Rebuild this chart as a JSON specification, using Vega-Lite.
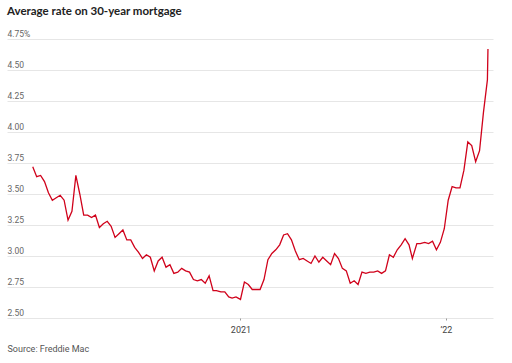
{
  "$schema": "https://vega.github.io/schema/vega-lite/v6.json",
  "width": 486,
  "height": 279,
  "autosize": {"type": "none"},
  "padding": {"left": 7, "top": 39, "right": 19, "bottom": 45},
  "background": "white",
  "title": {
    "text": "Average rate on 30-year mortgage",
    "anchor": "start",
    "frame": "group",
    "font": "Lato",
    "fontSize": 11.5,
    "fontWeight": "bold",
    "color": "#222222",
    "offset": 12
  },
  "config": {"view": {"stroke": null}},
  "data": {
    "values": [
      {"date": "2020-01-02", "rate": 3.72},
      {"date": "2020-01-09", "rate": 3.64},
      {"date": "2020-01-16", "rate": 3.65},
      {"date": "2020-01-23", "rate": 3.60},
      {"date": "2020-01-30", "rate": 3.51},
      {"date": "2020-02-06", "rate": 3.45},
      {"date": "2020-02-13", "rate": 3.47},
      {"date": "2020-02-20", "rate": 3.49},
      {"date": "2020-02-27", "rate": 3.45},
      {"date": "2020-03-05", "rate": 3.29},
      {"date": "2020-03-12", "rate": 3.36},
      {"date": "2020-03-19", "rate": 3.65},
      {"date": "2020-03-26", "rate": 3.50},
      {"date": "2020-04-02", "rate": 3.33},
      {"date": "2020-04-09", "rate": 3.33},
      {"date": "2020-04-16", "rate": 3.31},
      {"date": "2020-04-23", "rate": 3.33},
      {"date": "2020-04-30", "rate": 3.23},
      {"date": "2020-05-07", "rate": 3.26},
      {"date": "2020-05-14", "rate": 3.28},
      {"date": "2020-05-21", "rate": 3.24},
      {"date": "2020-05-28", "rate": 3.15},
      {"date": "2020-06-04", "rate": 3.18},
      {"date": "2020-06-11", "rate": 3.21},
      {"date": "2020-06-18", "rate": 3.13},
      {"date": "2020-06-25", "rate": 3.13},
      {"date": "2020-07-02", "rate": 3.07},
      {"date": "2020-07-09", "rate": 3.03},
      {"date": "2020-07-16", "rate": 2.98},
      {"date": "2020-07-23", "rate": 3.01},
      {"date": "2020-07-30", "rate": 2.99},
      {"date": "2020-08-06", "rate": 2.88},
      {"date": "2020-08-13", "rate": 2.96},
      {"date": "2020-08-20", "rate": 2.99},
      {"date": "2020-08-27", "rate": 2.91},
      {"date": "2020-09-03", "rate": 2.93},
      {"date": "2020-09-10", "rate": 2.86},
      {"date": "2020-09-17", "rate": 2.87},
      {"date": "2020-09-24", "rate": 2.90},
      {"date": "2020-10-01", "rate": 2.88},
      {"date": "2020-10-08", "rate": 2.87},
      {"date": "2020-10-15", "rate": 2.81},
      {"date": "2020-10-22", "rate": 2.80},
      {"date": "2020-10-29", "rate": 2.81},
      {"date": "2020-11-05", "rate": 2.78},
      {"date": "2020-11-12", "rate": 2.84},
      {"date": "2020-11-19", "rate": 2.72},
      {"date": "2020-11-25", "rate": 2.72},
      {"date": "2020-12-03", "rate": 2.71},
      {"date": "2020-12-10", "rate": 2.71},
      {"date": "2020-12-17", "rate": 2.67},
      {"date": "2020-12-23", "rate": 2.66},
      {"date": "2020-12-30", "rate": 2.67},
      {"date": "2021-01-07", "rate": 2.65},
      {"date": "2021-01-14", "rate": 2.79},
      {"date": "2021-01-21", "rate": 2.77},
      {"date": "2021-01-28", "rate": 2.73},
      {"date": "2021-02-04", "rate": 2.73},
      {"date": "2021-02-11", "rate": 2.73},
      {"date": "2021-02-18", "rate": 2.81},
      {"date": "2021-02-25", "rate": 2.97},
      {"date": "2021-03-04", "rate": 3.02},
      {"date": "2021-03-11", "rate": 3.05},
      {"date": "2021-03-18", "rate": 3.09},
      {"date": "2021-03-25", "rate": 3.17},
      {"date": "2021-04-01", "rate": 3.18},
      {"date": "2021-04-08", "rate": 3.13},
      {"date": "2021-04-15", "rate": 3.04},
      {"date": "2021-04-22", "rate": 2.97},
      {"date": "2021-04-29", "rate": 2.98},
      {"date": "2021-05-06", "rate": 2.96},
      {"date": "2021-05-13", "rate": 2.94},
      {"date": "2021-05-20", "rate": 3.00},
      {"date": "2021-05-27", "rate": 2.95},
      {"date": "2021-06-03", "rate": 2.99},
      {"date": "2021-06-10", "rate": 2.96},
      {"date": "2021-06-17", "rate": 2.93},
      {"date": "2021-06-24", "rate": 3.02},
      {"date": "2021-07-01", "rate": 2.98},
      {"date": "2021-07-08", "rate": 2.90},
      {"date": "2021-07-15", "rate": 2.88},
      {"date": "2021-07-22", "rate": 2.78},
      {"date": "2021-07-29", "rate": 2.80},
      {"date": "2021-08-05", "rate": 2.77},
      {"date": "2021-08-12", "rate": 2.87},
      {"date": "2021-08-19", "rate": 2.86},
      {"date": "2021-08-26", "rate": 2.87},
      {"date": "2021-09-02", "rate": 2.87},
      {"date": "2021-09-09", "rate": 2.88},
      {"date": "2021-09-16", "rate": 2.86},
      {"date": "2021-09-23", "rate": 2.88},
      {"date": "2021-09-30", "rate": 3.01},
      {"date": "2021-10-07", "rate": 2.99},
      {"date": "2021-10-14", "rate": 3.05},
      {"date": "2021-10-21", "rate": 3.09},
      {"date": "2021-10-28", "rate": 3.14},
      {"date": "2021-11-04", "rate": 3.09},
      {"date": "2021-11-10", "rate": 2.98},
      {"date": "2021-11-18", "rate": 3.10},
      {"date": "2021-11-24", "rate": 3.10},
      {"date": "2021-12-02", "rate": 3.11},
      {"date": "2021-12-09", "rate": 3.10},
      {"date": "2021-12-16", "rate": 3.12},
      {"date": "2021-12-23", "rate": 3.05},
      {"date": "2021-12-30", "rate": 3.11},
      {"date": "2022-01-06", "rate": 3.22},
      {"date": "2022-01-13", "rate": 3.45},
      {"date": "2022-01-20", "rate": 3.56},
      {"date": "2022-01-27", "rate": 3.55},
      {"date": "2022-02-03", "rate": 3.55},
      {"date": "2022-02-10", "rate": 3.69},
      {"date": "2022-02-17", "rate": 3.92},
      {"date": "2022-02-24", "rate": 3.89},
      {"date": "2022-03-03", "rate": 3.76},
      {"date": "2022-03-10", "rate": 3.85},
      {"date": "2022-03-17", "rate": 4.16},
      {"date": "2022-03-24", "rate": 4.42},
      {"date": "2022-03-25", "rate": 4.67}
    ]
  },
  "mark": {"type": "line", "color": "#d0021b", "strokeWidth": 1.3, "interpolate": "linear"},
  "encoding": {
    "x": {
      "field": "date",
      "type": "temporal",
      "scale": {
        "type": "utc",
        "domain": [
          {"year": 2019, "month": 11, "date": 17, "utc": true},
          {"year": 2022, "month": 4, "date": 3, "utc": true}
        ]
      },
      "axis": {
        "values": [
          {"year": 2021, "month": 1, "date": 7, "utc": true},
          {"year": 2022, "month": 1, "date": 9, "utc": true}
        ],
        "labelExpr": "utcyear(datum.value) == 2021 ? '2021' : '\u201922'",
        "domain": false,
        "grid": false,
        "ticks": true,
        "tickSize": 2,
        "tickColor": "#999999",
        "labelFont": "Roboto",
        "labelFontSize": 9,
        "labelColor": "#444444",
        "labelPadding": 5,
        "title": "Source: Freddie Mac",
        "titleFont": "Roboto",
        "titleFontSize": 9,
        "titleFontWeight": "normal",
        "titleColor": "#555555",
        "titleAnchor": "start",
        "titleAlign": "left",
        "titleBaseline": "middle",
        "titleX": 0,
        "titleY": 30
      }
    },
    "y": {
      "field": "rate",
      "type": "quantitative",
      "scale": {"domain": [2.5, 4.75], "nice": false, "zero": false},
      "axis": {
        "values": [2.5, 2.75, 3, 3.25, 3.5, 3.75, 4, 4.25, 4.5, 4.75],
        "labelExpr": "datum.value == 4.75 ? '4.75%' : format(datum.value, '.2f')",
        "domain": false,
        "ticks": false,
        "tickSize": 0,
        "labelPadding": 0,
        "labelAlign": "left",
        "labelBaseline": "alphabetic",
        "labelOffset": -2.5,
        "labelFont": "Roboto",
        "labelFontSize": 8.5,
        "labelColor": "#666666",
        "grid": true,
        "gridColor": "#e6e6e6",
        "gridWidth": 1,
        "title": null
      }
    }
  }
}
